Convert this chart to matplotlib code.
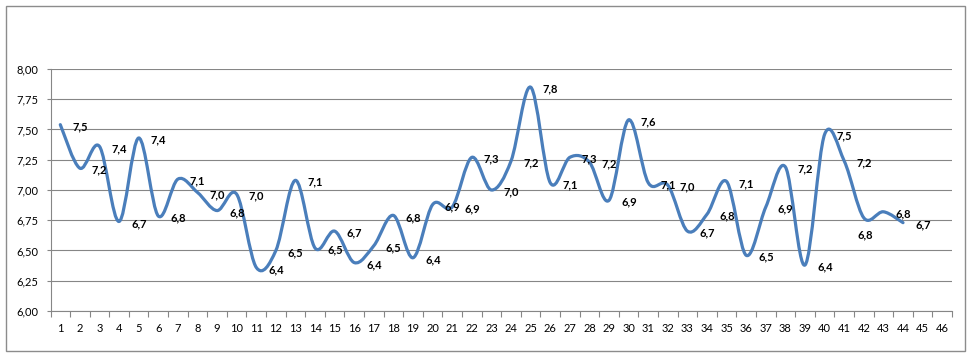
import matplotlib
matplotlib.use("Agg")
import matplotlib.pyplot as plt
from matplotlib.path import Path
from matplotlib.patches import PathPatch, Rectangle
from matplotlib.ticker import FuncFormatter, MultipleLocator
import numpy as np

# values
categories = list(range(1, 47))
values = [7.54, 7.18, 7.36, 6.74, 7.43, 6.785, 7.09, 6.98, 6.83, 6.965,
          6.36, 6.50, 7.08, 6.52, 6.66, 6.40, 6.54, 6.79, 6.44, 6.88,
          6.86, 7.27, 7.00, 7.24, 7.85, 7.06, 7.27, 7.23, 6.915, 7.58,
          7.06, 7.04, 6.66, 6.80, 7.07, 6.46, 6.86, 7.19, 6.38, 7.46,
          7.24, 6.77, 6.82, 6.73]
below_labels = [42]

plt.rcParams['font.family'] = ['Lato', 'DejaVu Sans']

fig = plt.figure(figsize=(9.74, 3.55), dpi=100)
ax = fig.add_axes([50.5/974, 1-311/355, (952-50.5)/974, (311-69)/355])

# outer chart border
fig.patches.append(Rectangle((6/974, 4/355), 959/974, 345/355, transform=fig.transFigure,
                             fill=False, edgecolor='#8c8c8c', linewidth=1.0))

x = np.array(categories[:len(values)], dtype=float)
y = np.array(values)

# smoothed line like excel (catmull-rom as bezier segments)
verts = [(x[0], y[0])]
codes = [Path.MOVETO]
n = len(x)
for i in range(n - 1):
    p0 = max(i - 1, 0)
    p3 = min(i + 2, n - 1)
    c1 = (x[i] + (x[i+1] - x[p0]) / 6, y[i] + (y[i+1] - y[p0]) / 6)
    c2 = (x[i+1] - (x[p3] - x[i]) / 6, y[i+1] - (y[p3] - y[i]) / 6)
    verts += [c1, c2, (x[i+1], y[i+1])]
    codes += [Path.CURVE4, Path.CURVE4, Path.CURVE4]
ax.add_patch(PathPatch(Path(verts, codes), fill=False, edgecolor='#4a7ebb',
                       linewidth=2.3, capstyle='round', joinstyle='round', zorder=3))

# data labels
for cat, v in zip(categories, values):
    txt = f"{v:.1f}".replace('.', ',')
    if cat in below_labels:
        ax.annotate(txt, (cat, v), xytext=(1, -17), textcoords='offset pixels',
                    ha='center', va='center', fontsize=8, fontweight='bold', zorder=4)
    else:
        ax.annotate(txt, (cat, v), xytext=(12, -2), textcoords='offset pixels',
                    ha='left', va='center', fontsize=8, fontweight='bold', zorder=4)

ax.set_xlim(0.5, 46.5)
ax.set_ylim(6.0, 8.0)
ax.yaxis.set_major_locator(MultipleLocator(0.25))
ax.yaxis.set_major_formatter(FuncFormatter(lambda v, p: f"{v:.2f}".replace('.', ',')))
ax.set_xticks(categories)
ax.set_xticks(np.arange(0.5, 47, 1), minor=True)

ax.grid(axis='y', color='#868686', linewidth=0.8)
ax.set_axisbelow(True)
for s in ['top', 'right']:
    ax.spines[s].set_visible(False)
for s in ['left', 'bottom']:
    ax.spines[s].set_color('#868686')
    ax.spines[s].set_linewidth(0.8)

ax.tick_params(axis='x', which='major', length=0, pad=9, labelsize=8)
ax.tick_params(axis='x', which='minor', length=4, color='#868686', width=0.8)
ax.tick_params(axis='y', length=3, color='#868686', width=0.8, pad=6, labelsize=8)

fig.savefig("out.png", dpi=100)
